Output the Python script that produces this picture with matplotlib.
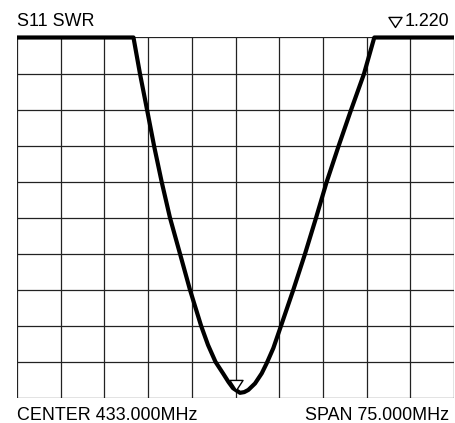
import numpy as np
from matplotlib import pyplot as plt
from matplotlib.path import Path

# sweep settings
center = 433.0
span = 75.0
swr_bottom = 1.2
swr_per_div = 0.1

# trace (MHz, SWR); values above the top are shown pinned at the top
freq = [395.5, 415.49, 416.61, 417.86, 419.06, 420.33, 421.76, 423.48, 425.19, 427.10,
        428.28, 429.57, 430.86, 431.80, 432.57, 433.77, 434.50, 435.20, 436.35,
        437.50, 438.35, 439.49, 440.81, 442.92, 444.93, 446.82, 448.65, 450.64, 452.77,
        455.05, 456.82, 470.5]
swr = [2.2, 2.2, 2.099, 1.996, 1.896, 1.799, 1.699, 1.599, 1.499, 1.399,
       1.346, 1.299, 1.267, 1.243, 1.226, 1.213, 1.215, 1.221, 1.239,
       1.267, 1.295, 1.337, 1.399, 1.499, 1.599, 1.699, 1.799, 1.896, 1.996,
       2.099, 2.2, 2.2]

marker_freq = 433.0
marker_swr = 1.220


def main():
    plt.rcParams['font.family'] = ['Liberation Sans', 'DejaVu Sans']
    fig = plt.figure(figsize=(4.56, 4.23), dpi=100)
    ax = fig.add_axes([17 / 456, 1 - 397.5 / 423, 437 / 456, 360 / 423])

    fmin = center - span / 2
    fmax = center + span / 2
    ytop = swr_bottom + 10 * swr_per_div
    ax.set_xlim(fmin, fmax)
    ax.set_ylim(swr_bottom, ytop)

    # 10x10 graticule
    for i in range(11):
        ax.axvline(fmin + i * span / 10, color='#222222', lw=0.9, zorder=1)
        ax.axhline(swr_bottom + i * swr_per_div, color='#222222', lw=0.9, zorder=1)
    for s in ax.spines.values():
        s.set_visible(False)
    ax.set_xticks([])
    ax.set_yticks([])

    ax.plot(freq, swr, color='black', lw=3, solid_joinstyle='round',
            solid_capstyle='butt', clip_on=False, zorder=3)

    # open triangle marker with its tip on the trace
    tri = Path([(-0.65, 1.0), (0.65, 1.0), (0.0, 0.0), (-0.65, 1.0)],
               [Path.MOVETO, Path.LINETO, Path.LINETO, Path.CLOSEPOLY])
    ax.plot([marker_freq], [marker_swr], marker=tri, ms=14.5, mfc='white',
            mec='black', mew=1.0, ls='none', zorder=4)

    # marker readout, triangle drawn the same way as on the trace
    ax.plot([395.3 / 456], [1 - 27.5 / 423], marker=tri, ms=14.5, mfc='white',
            mec='black', mew=1.0, ls='none', transform=fig.transFigure, clip_on=False)

    fig.text(17 / 456, 1 - 21 / 423, 'S11 SWR', fontsize=12.9, ha='left', va='center')
    fig.text(449 / 456, 1 - 21 / 423, '%.3f' % marker_swr, fontsize=12.9,
             ha='right', va='center')
    fig.text(17 / 456, 1 - 415 / 423, 'CENTER %.3fMHz' % center, fontsize=12.9,
             ha='left', va='center')
    fig.text(449 / 456, 1 - 415 / 423, 'SPAN %.3fMHz' % span, fontsize=12.9,
             ha='right', va='center')

    fig.savefig('out.png', dpi=100)
    return


main()
